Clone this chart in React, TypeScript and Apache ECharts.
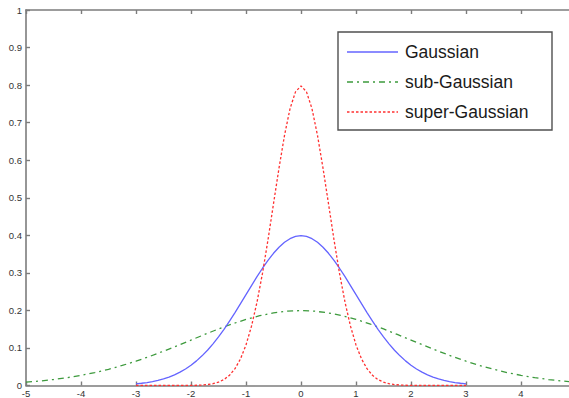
import React, { useEffect, useRef } from "react";
import * as echarts from "echarts";

// x grid of the two narrow curves, -3 .. 3
const narrowX = [
  -3.0, -2.9, -2.8, -2.7, -2.6, -2.5, -2.4, -2.3, -2.2, -2.1,
  -2.0, -1.9, -1.8, -1.7, -1.6, -1.5, -1.4, -1.3, -1.2, -1.1,
  -1.0, -0.9, -0.8, -0.7, -0.6, -0.5, -0.4, -0.3, -0.2, -0.1,
  0.0,
  0.1, 0.2, 0.3, 0.4, 0.5, 0.6, 0.7, 0.8, 0.9, 1.0,
  1.1, 1.2, 1.3, 1.4, 1.5, 1.6, 1.7, 1.8, 1.9, 2.0,
  2.1, 2.2, 2.3, 2.4, 2.5, 2.6, 2.7, 2.8, 2.9, 3.0,
];

const gaussianY = [
  0.0044, 0.006, 0.0079, 0.0104, 0.0136, 0.0175, 0.0224, 0.0283, 0.0355, 0.044,
  0.054, 0.0656, 0.079, 0.094, 0.1109, 0.1295, 0.1497, 0.1714, 0.1942, 0.2179,
  0.242, 0.2661, 0.2897, 0.3123, 0.3332, 0.3521, 0.3683, 0.3814, 0.391, 0.397,
  0.3989,
  0.397, 0.391, 0.3814, 0.3683, 0.3521, 0.3332, 0.3123, 0.2897, 0.2661, 0.242,
  0.2179, 0.1942, 0.1714, 0.1497, 0.1295, 0.1109, 0.094, 0.079, 0.0656, 0.054,
  0.044, 0.0355, 0.0283, 0.0224, 0.0175, 0.0136, 0.0104, 0.0079, 0.006, 0.0044,
];

const superGaussianY = [
  0, 0, 0, 0, 0, 0, 0, 0, 0, 0,
  0.0003, 0.0006, 0.0012, 0.0025, 0.0048, 0.0089, 0.0158, 0.0271, 0.0448, 0.0709,
  0.108, 0.158, 0.222, 0.299, 0.388, 0.484, 0.579, 0.666, 0.737, 0.782,
  0.798,
  0.782, 0.737, 0.666, 0.579, 0.484, 0.388, 0.299, 0.222, 0.158, 0.108,
  0.0709, 0.0448, 0.0271, 0.0158, 0.0089, 0.0048, 0.0025, 0.0012, 0.0006, 0.0003,
  0, 0, 0, 0, 0, 0, 0, 0, 0, 0,
];

// x grid of the wide curve, -5 .. 5
const wideX = [
  -5, -4.75, -4.5, -4.25, -4, -3.75, -3.5, -3.25, -3, -2.75,
  -2.5, -2.25, -2, -1.75, -1.5, -1.25, -1, -0.75, -0.5, -0.25,
  0,
  0.25, 0.5, 0.75, 1, 1.25, 1.5, 1.75, 2, 2.25, 2.5,
  2.75, 3, 3.25, 3.5, 3.75, 4, 4.25, 4.5, 4.75, 5,
];

const subGaussianY = [
  0.0088, 0.0119, 0.0159, 0.0209, 0.027, 0.0344, 0.0431, 0.0533, 0.0648, 0.0775,
  0.0913, 0.1059, 0.121, 0.136, 0.1506, 0.1641, 0.176, 0.1859, 0.1933, 0.1979,
  0.1995,
  0.1979, 0.1933, 0.1859, 0.176, 0.1641, 0.1506, 0.136, 0.121, 0.1059, 0.0913,
  0.0775, 0.0648, 0.0533, 0.0431, 0.0344, 0.027, 0.0209, 0.0159, 0.0119, 0.0088,
];

const seriesNames = ["Gaussian", "sub-Gaussian", "super-Gaussian"];

const BLUE = "#6464ff";
const GREEN = "#3d9a3d";
const RED = "#ff3030";
const AXIS = "#7c7c7c";
const FONT = "'Liberation Sans', Arial, sans-serif";

const pairs = (xs: number[], ys: number[]) => xs.map((x, i) => [x, ys[i]]);

export default function App() {
  const ref = useRef<HTMLDivElement>(null);

  useEffect(() => {
    if (!ref.current) return;
    const chart = echarts.init(ref.current, undefined, { renderer: "svg" });

    const axisCommon = {
      type: "value" as const,
      axisLine: { show: true, onZero: false, lineStyle: { color: AXIS, width: 1.6 } },
      axisTick: { show: true, inside: true, length: 4, lineStyle: { color: AXIS, width: 1.4 } },
      splitLine: { show: false },
    };

    const legendRows = [
      { name: seriesNames[0], color: BLUE, dash: null as number[] | null },
      { name: seriesNames[1], color: GREEN, dash: [6, 4, 2, 4] },
      { name: seriesNames[2], color: RED, dash: [2.5, 2] },
    ];

    const legendGraphic: any[] = [
      {
        type: "rect",
        shape: { x: 338, y: 32, width: 214, height: 98 },
        style: { fill: "#ffffff", stroke: "#505050", lineWidth: 1.4 },
        z: 100,
      },
    ];
    legendRows.forEach((r, i) => {
      const y = 52 + i * 30;
      legendGraphic.push({
        type: "line",
        shape: { x1: 347, y1: y, x2: 398, y2: y },
        style: { stroke: r.color, lineWidth: 1.3, lineDash: r.dash || undefined },
        z: 101,
      });
      legendGraphic.push({
        type: "text",
        x: 405,
        y: y,
        style: {
          text: r.name,
          font: `17.5px ${FONT}`,
          fill: "#1a1a1a",
          verticalAlign: "middle",
          align: "left",
        },
        z: 101,
      });
    });

    chart.setOption({
      animation: false,
      backgroundColor: "#ffffff",
      grid: {
        left: 26,
        right: -7,
        top: 10,
        bottom: 12.5,
        containLabel: false,
        outerBoundsMode: "none",
      },
      xAxis: [
        {
          ...axisCommon,
          position: "bottom",
          min: -5,
          max: 5,
          interval: 1,
          axisLabel: {
            show: true,
            showMaxLabel: false,
            fontSize: 9.5,
            fontFamily: FONT,
            color: "#333",
            margin: 3,
          },
        },
        {
          ...axisCommon,
          position: "top",
          min: -5,
          max: 5,
          interval: 1,
          axisLabel: { show: false },
        },
      ],
      yAxis: [
        {
          ...axisCommon,
          position: "left",
          min: 0,
          max: 1,
          interval: 0.1,
          axisLabel: { show: true, fontSize: 9.5, fontFamily: FONT, color: "#333", margin: 4 },
        },
      ],
      series: [
        {
          name: seriesNames[0],
          type: "line",
          data: pairs(narrowX, gaussianY),
          showSymbol: false,
          symbol: "none",
          lineStyle: { color: BLUE, width: 1.3, type: "solid" },
          z: 3,
        },
        {
          name: seriesNames[1],
          type: "line",
          data: pairs(wideX, subGaussianY),
          showSymbol: false,
          symbol: "none",
          lineStyle: { color: GREEN, width: 1.3, type: [6, 4, 2, 4] },
          z: 2,
        },
        {
          name: seriesNames[2],
          type: "line",
          data: pairs(narrowX, superGaussianY),
          showSymbol: false,
          symbol: "none",
          lineStyle: { color: RED, width: 1.3, type: [2.5, 2] },
          z: 4,
        },
      ],
      graphic: legendGraphic,
    });

    return () => chart.dispose();
  }, []);

  return (
    <div
      ref={ref}
      style={{ position: "fixed", left: 0, top: 0, width: 569, height: 398, background: "#fff" }}
    />
  );
}
